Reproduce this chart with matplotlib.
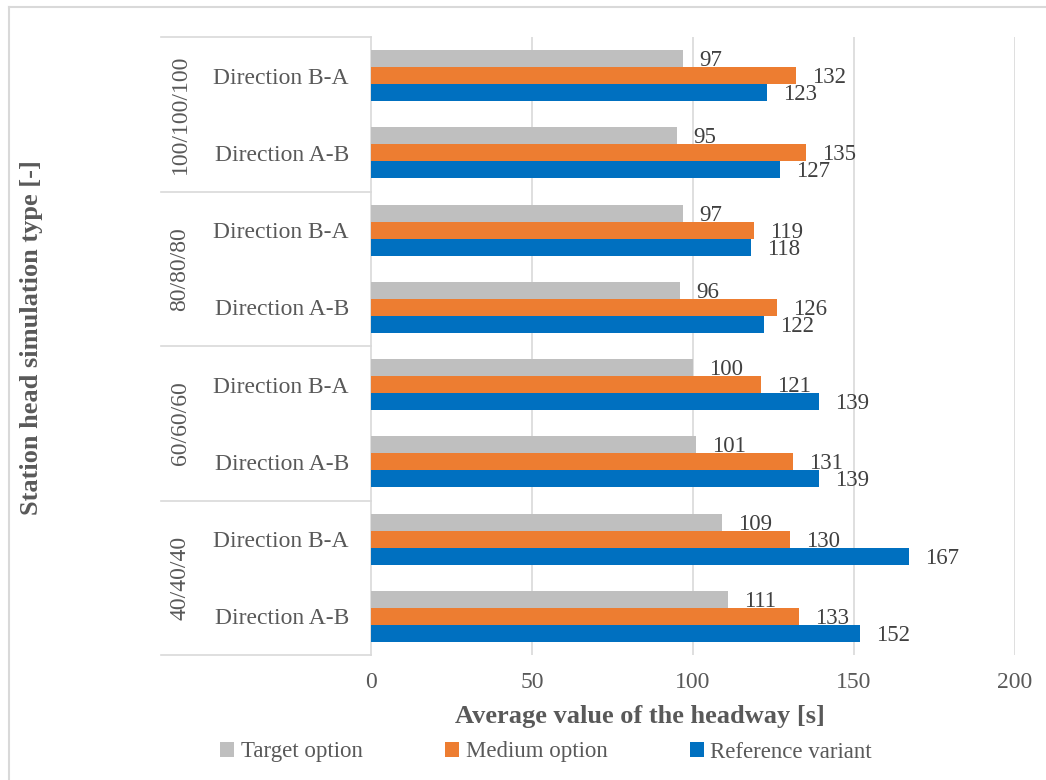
import matplotlib
matplotlib.use("Agg")
import matplotlib.pyplot as plt
from matplotlib.patches import Patch
from matplotlib.lines import Line2D
import matplotlib.transforms as mtransforms

plt.rcParams['font.family'] = ['Liberation Serif', 'DejaVu Serif']

# Categories listed bottom to top
groups = ["40/40/40", "60/60/60", "80/80/80", "100/100/100"]
directions = ["Direction A-B", "Direction B-A"]

series_names = ["Target option", "Medium option", "Reference variant"]
target = [111, 109, 101, 100, 96, 97, 95, 97]
medium = [133, 130, 131, 121, 126, 119, 135, 132]
reference = [152, 167, 139, 139, 122, 118, 127, 123]

x_ticks = [0, 50, 100, 150, 200]

colors = ["#BFBFBF", "#ED7D31", "#0070C0"]
text_col = "#595959"
label_col = "#404040"
grid_col = "#D9D9D9"

W, H = 1046, 780
fig = plt.figure(figsize=(W / 100, H / 100), dpi=100)

x0, x1, ytop, ybot = 371, 1015, 37, 655
ax = fig.add_axes([x0 / W, (H - ybot) / H, (x1 - x0) / W, (ybot - ytop) / H])

n = len(target)
ypos = list(range(n))
bh = 0.22
offsets = [bh, 0.0, -bh]
for vals, off, c in zip([target, medium, reference], offsets, colors):
    yy = [y + off for y in ypos]
    ax.barh(yy, vals, height=bh, color=c, zorder=3)
    for y, v in zip(yy, vals):
        ax.annotate(f"{v}", xy=(v, y), xytext=(16, -2), textcoords="offset pixels",
                    ha="left", va="center", fontsize=16.5, color=label_col,
                    zorder=4, clip_on=False)

ax.set_xlim(0, 200)
ax.set_ylim(-0.5, n - 0.5)
ax.set_xticks(x_ticks)
ax.set_xticklabels([str(t) for t in x_ticks])
ax.tick_params(axis="x", length=0, pad=12, labelsize=17, labelcolor=text_col)
ax.set_yticks(ypos)
ax.set_yticklabels([directions[i % 2] for i in ypos])
ax.tick_params(axis="y", length=0, pad=16, labelsize=17, labelcolor=text_col)

for s in ["top", "right", "bottom"]:
    ax.spines[s].set_visible(False)
ax.spines["left"].set_color(grid_col)
ax.spines["left"].set_linewidth(1.2)
for t in x_ticks[1:]:
    ax.axvline(t, color=grid_col, lw=1.2, zorder=1)

# Separators for the grouped category labels
trans = mtransforms.blended_transform_factory(ax.transAxes, ax.transData)
xl = (161 - x0) / (x1 - x0)
for b in [-0.5, 1.5, 3.5, 5.5, 7.5]:
    ax.add_line(Line2D([xl, 0], [b, b], transform=trans, color=grid_col,
                       lw=1.2, clip_on=False))
xg = (180 - x0) / (x1 - x0)
for gi, g in enumerate(groups):
    ax.text(xg, 2 * gi + 0.5, g, transform=trans, rotation=90, ha="center",
            va="center", fontsize=17, color=text_col)

fig.text(640 / W, (H - 716) / H, "Average value of the headway [s]", ha="center",
         va="center", fontsize=19, fontweight="bold", color=text_col)
fig.text(32 / W, (H - 338) / H, "Station head simulation type [-]", ha="center",
         va="center", rotation=90, fontsize=19, fontweight="bold", color=text_col)

handles = [Patch(facecolor=c, edgecolor="none") for c in colors]
leg = fig.legend(handles, series_names, loc="center", ncol=3,
                 bbox_to_anchor=(546 / W, (H - 752) / H), frameon=False,
                 fontsize=16.5, handlelength=0.6, handleheight=0.6,
                 handletextpad=0.3, columnspacing=3.6)
for t in leg.get_texts():
    t.set_color(text_col)

# Chart frame (left and top edges)
fig.add_artist(Line2D([9 / W, 9 / W], [0, (H - 7) / H], color=grid_col, lw=1.5,
                      transform=fig.transFigure))
fig.add_artist(Line2D([9 / W, 1], [(H - 7) / H, (H - 7) / H], color=grid_col, lw=1.5,
                      transform=fig.transFigure))

fig.savefig("out.png", dpi=100)
